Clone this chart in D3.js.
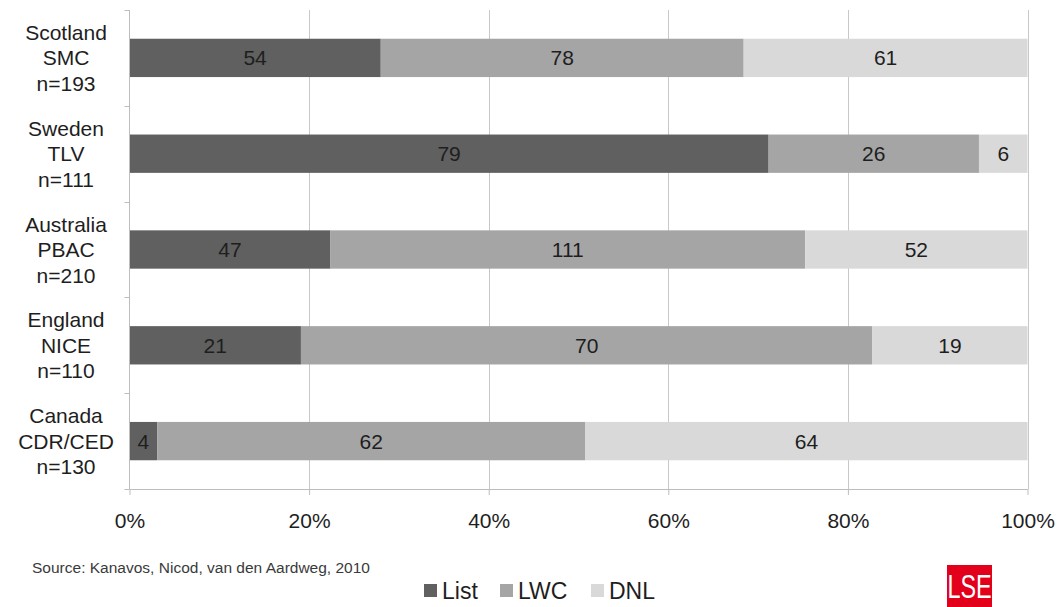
<!DOCTYPE html>
<html>
<head>
<meta charset="utf-8">
<script src="https://cdn.jsdelivr.net/npm/d3@7"></script>
<style>
  html, body { margin: 0; padding: 0; background: #fff; }
  svg { display: block; }
  text { font-family: Arial, "Liberation Sans", sans-serif; fill: #1e1e1e; }
</style>
</head>
<body>
<svg id="chart" width="1060" height="607"></svg>
<script>
// HTA bodies and number of decisions per outcome
const agencies = [
  ["Scotland", "SMC", "n=193"],
  ["Sweden", "TLV", "n=111"],
  ["Australia", "PBAC", "n=210"],
  ["England", "NICE", "n=110"],
  ["Canada", "CDR/CED", "n=130"]
];
const seriesNames = ["List", "LWC", "DNL"];
const listCounts = [54, 79, 47, 21, 4];
const lwcCounts  = [78, 26, 111, 70, 62];
const dnlCounts  = [61, 6, 52, 19, 64];
const xTicks = [0, 0.2, 0.4, 0.6, 0.8, 1];
const colors = ["#606060", "#a5a5a5", "#d9d9d9"];
const sourceNote = "Source: Kanavos, Nicod, van den Aardweg, 2010";

const rows = agencies.map((a, i) => ({
  key: a[0], lines: a,
  List: listCounts[i], LWC: lwcCounts[i], DNL: dnlCounts[i]
}));

const svg = d3.select("#chart");
const margin = { left: 129.5, right: 32.5, top: 10, bottom: 118 };
const W = 1060, H = 607;

const x = d3.scaleLinear().domain([0, 1]).range([margin.left, W - margin.right]);
const y = d3.scaleBand().domain(rows.map(d => d.key))
  .range([margin.top, H - margin.bottom]).paddingInner(0.6).paddingOuter(0.3);

const stack = d3.stack().keys(seriesNames).offset(d3.stackOffsetExpand);
const layers = stack(rows);

// vertical gridlines
svg.append("g").selectAll("line").data(xTicks.slice(1)).join("line")
  .attr("x1", d => Math.round(x(d)) + 0.5).attr("x2", d => Math.round(x(d)) + 0.5)
  .attr("y1", margin.top).attr("y2", H - margin.bottom)
  .attr("stroke", "#c8c8c8").attr("stroke-width", 1);

// stacked bars
const layerG = svg.append("g").selectAll("g").data(layers).join("g")
  .attr("fill", (d, i) => colors[i]);
layerG.selectAll("rect").data(d => d.map(v => ({ v, key: d.key }))).join("rect")
  .attr("x", d => x(d.v[0]))
  .attr("y", d => y(d.v.data.key))
  .attr("width", d => x(d.v[1]) - x(d.v[0]))
  .attr("height", y.bandwidth());

// value labels
layerG.selectAll("text").data(d => d.map(v => ({ v, key: d.key }))).join("text")
  .attr("x", d => (x(d.v[0]) + x(d.v[1])) / 2)
  .attr("y", d => y(d.v.data.key) + y.bandwidth() / 2)
  .attr("dy", "0.36em")
  .attr("text-anchor", "middle")
  .attr("font-size", 21)
  .text(d => d.v.data[d.key]);

// bottom axis
const xAxis = d3.axisBottom(x).tickValues(xTicks).tickFormat(d3.format(".0%"))
  .tickSize(6).tickSizeOuter(0);
const gx = svg.append("g").attr("transform", `translate(0,${H - margin.bottom})`).call(xAxis);
gx.selectAll("path, line").attr("stroke", "#bdbdbd");
gx.selectAll("text").attr("font-size", 21).attr("dy", "1.05em").style("fill", "#1e1e1e")
  .attr("font-family", "Arial, 'Liberation Sans', sans-serif");
gx.selectAll(".tick text").attr("y", 17);

// left axis line with band-boundary ticks
const bandEdges = d3.range(rows.length + 1).map(i => margin.top + i * ((H - margin.bottom - margin.top) / rows.length));
const gy = svg.append("g");
gy.append("line").attr("x1", margin.left).attr("x2", margin.left)
  .attr("y1", margin.top).attr("y2", H - margin.bottom).attr("stroke", "#bdbdbd");
gy.selectAll("line.tk").data(bandEdges).join("line").attr("class", "tk")
  .attr("x1", margin.left - 5).attr("x2", margin.left)
  .attr("y1", d => Math.round(d) + 0.5).attr("y2", d => Math.round(d) + 0.5)
  .attr("stroke", "#bdbdbd");

// category labels (three lines each)
const catG = svg.append("g").selectAll("text").data(rows).join("text")
  .attr("text-anchor", "middle").attr("font-size", 21)
  .attr("transform", d => `translate(66,${y(d.key) + y.bandwidth() / 2})`);
catG.selectAll("tspan").data(d => d.lines).join("tspan")
  .attr("x", 0).attr("y", (d, i) => (i - 1) * 25.5).attr("dy", "0.36em")
  .text(d => d);

// source note
svg.append("text").attr("x", 32).attr("y", 573)
  .attr("font-size", 14).attr("font-family", "Carlito, Calibri, 'Open Sans', sans-serif")
  .attr("textLength", 338).attr("lengthAdjust", "spacingAndGlyphs")
  .style("fill", "#3a3a3a").text(sourceNote);

// legend
const legendX = [424, 500, 591];
const lg = svg.append("g").selectAll("g").data(seriesNames).join("g")
  .attr("transform", (d, i) => `translate(${legendX[i]},584)`);
lg.append("rect").attr("width", 13).attr("height", 13).attr("fill", (d, i) => colors[i]);
lg.append("text").attr("x", 18).attr("y", 6.5).attr("dy", "0.36em")
  .attr("font-size", 23).text(d => d);

// LSE mark
const logo = svg.append("g").attr("transform", "translate(947,565)");
logo.append("rect").attr("width", 45).attr("height", 42).attr("fill", "#e2001a");
logo.append("text").attr("x", 22.5).attr("y", 30).attr("text-anchor", "middle")
  .attr("font-size", 30).attr("font-family", "'Liberation Sans Narrow', 'DejaVu Sans Condensed', sans-serif")
  .attr("transform", "translate(22.5,0) scale(0.78,1.1) translate(-22.5,0)")
  .style("fill", "#fff").text("LSE");
</script>
</body>
</html>
